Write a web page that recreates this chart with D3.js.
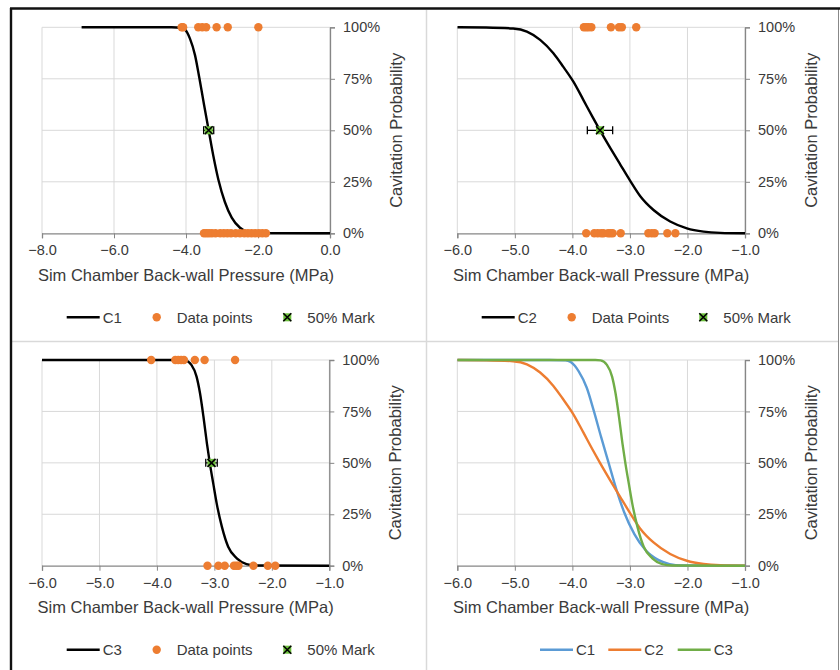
<!DOCTYPE html>
<html>
<head>
<meta charset="utf-8">
<script src="https://cdn.jsdelivr.net/npm/d3@7"></script>
<style>
body{margin:0;background:#fff;}
svg text{font-family:"Liberation Sans",Arial,sans-serif;fill:#3a3a3a;}
</style>
</head>
<body>
<svg id="chart" width="840" height="670"></svg>
<script>
// fitted curves (pressure MPa, probability)
var c1X = [-6.9,-4.4,-4.12,-4.03,-3.89,-3.75,-3.63,-3.50,-3.37,-3.24,-3.10,-2.92,-2.73,-2.50,-2.31,-2.10,0];
var c1Y = [1,1,0.998,0.99,0.945,0.865,0.755,0.625,0.50,0.375,0.26,0.152,0.076,0.027,0.008,0.001,0];
var c2X = [-6.0,-5.5,-5.03,-4.79,-4.56,-4.33,-4.16,-3.98,-3.81,-3.65,-3.52,-3.34,-3.17,-3.0,-2.82,-2.59,-2.30,-2.01,-1.72,-1.43,-1.0];
var c2Y = [1,0.999,0.994,0.979,0.939,0.874,0.809,0.735,0.648,0.565,0.50,0.414,0.335,0.257,0.18,0.113,0.057,0.024,0.008,0.002,0];
var c3X = [-6.0,-3.6,-3.51,-3.40,-3.31,-3.25,-3.19,-3.13,-3.08,-3.02,-2.96,-2.87,-2.76,-2.61,-2.44,-2.26,-1.0];
var c3Y = [1,1,0.998,0.976,0.919,0.838,0.724,0.595,0.50,0.40,0.303,0.19,0.092,0.036,0.008,0.001,0];

// test points: cavitated (100%) and not cavitated (0%)
var p1Cav = [-4.12,-4.08,-3.66,-3.55,-3.44,-3.15,-2.84,-1.99];
var p1No = [-3.50,-3.43,-3.36,-3.28,-3.18,-3.05,-2.95,-2.85,-2.75,-2.62,-2.50,-2.38,-2.28,-2.18,-2.08,-1.98,-1.88,-1.78];
var p2Cav = [-3.80,-3.76,-3.72,-3.67,-3.33,-3.19,-3.14,-2.89];
var p2No = [-3.76,-3.62,-3.56,-3.50,-3.46,-3.38,-3.34,-3.30,-3.16,-2.68,-2.62,-2.57,-2.35,-2.21];
var p3Cav = [-4.10,-3.68,-3.63,-3.58,-3.53,-3.34,-3.17,-2.64];
var p3No = [-3.12,-2.93,-2.82,-2.66,-2.62,-2.58,-2.32,-2.07,-1.94];

// 50% mark: [pressure, probability, +/- error]
var mark1 = [-3.37, 0.5, 0.14];
var mark2 = [-3.52, 0.5, 0.22];
var mark3 = [-3.05, 0.5, 0.10];

var xTicksWide = [-8,-6,-4,-2,0];
var xTicksNarrow = [-6,-5,-4,-3,-2,-1];
var yTicks = [0,0.25,0.5,0.75,1];
var xTitle = "Sim Chamber Back-wall Pressure (MPa)";
var yTitle = "Cavitation Probability";

var orange = "#ED7D31", blue = "#5B9BD5", green = "#70AD47", markGreen = "#6BBF3A";

var CavChart = {
	svg: d3.select("#chart"),
	drawFrame: function(){
		var s = this.svg;
		s.append("line").attr("x1",426.5).attr("y1",10).attr("x2",426.5).attr("y2",670)
			.attr("stroke","#d9d9d9").attr("stroke-width",1.5);
		s.append("line").attr("x1",12).attr("y1",341.5).attr("x2",838).attr("y2",341.5)
			.attr("stroke","#d9d9d9").attr("stroke-width",1.5);
		s.append("line").attr("x1",838.5).attr("y1",9).attr("x2",838.5).attr("y2",670)
			.attr("stroke","#888").attr("stroke-width",1);
		s.append("line").attr("x1",10).attr("y1",8.5).attr("x2",840).attr("y2",8.5)
			.attr("stroke","#111").attr("stroke-width",2.4);
		s.append("line").attr("x1",11).attr("y1",8).attr("x2",11).attr("y2",670)
			.attr("stroke","#111").attr("stroke-width",2.4);
	},
	mark: function(g, cx, cy){
		g.append("rect").attr("x",cx-4).attr("y",cy-4).attr("width",8).attr("height",8).attr("fill",markGreen);
		g.append("path").attr("d","M"+(cx-4)+","+(cy-4)+"L"+(cx+4)+","+(cy+4)+"M"+(cx+4)+","+(cy-4)+"L"+(cx-4)+","+(cy+4))
			.attr("stroke","#000").attr("stroke-width",1.6);
	},
	panel: function(o){
		var s = this.svg, self = this;
		var g = s.append("g");
		var x = d3.scaleLinear().domain(o.xDomain).range([o.left,o.right]);
		var y = d3.scaleLinear().domain([0,1]).range([o.bottom,o.top]);
		var clipId = "clip"+o.id;
		s.append("clipPath").attr("id",clipId).append("rect")
			.attr("x",o.left).attr("y",o.top-6).attr("width",o.right-o.left).attr("height",o.bottom-o.top+12);

		// grid
		g.selectAll(".vgrid").data(o.xTicks).enter().append("line")
			.attr("x1",function(d){return x(d);}).attr("x2",function(d){return x(d);})
			.attr("y1",o.top).attr("y2",o.bottom)
			.attr("stroke","#d9d9d9").attr("stroke-width",1);
		g.selectAll(".hgrid").data(yTicks.slice(1)).enter().append("line")
			.attr("x1",o.left).attr("x2",o.right)
			.attr("y1",function(d){return y(d);}).attr("y2",function(d){return y(d);})
			.attr("stroke","#d9d9d9").attr("stroke-width",1);

		// bottom axis
		var xAxis = d3.axisBottom(x).tickValues(o.xTicks).tickSize(5).tickFormat(d3.format(".1f"));
		var ga = g.append("g").attr("transform","translate(0,"+o.bottom+")").call(xAxis);
		ga.select(".domain").attr("stroke","#868686").attr("stroke-width",1.3);
		ga.selectAll(".tick line").attr("stroke","#868686");
		ga.selectAll(".tick text").attr("y",17).attr("dy","0.35em").style("font-size","14.5px");
		ga.attr("font-family",null).attr("font-size",null);

		// right axis
		var yAxis = d3.axisRight(y).tickValues(yTicks).tickSize(5).tickFormat(d3.format(".0%"));
		var gy = g.append("g").attr("transform","translate("+o.right+",0)").call(yAxis);
		gy.select(".domain").attr("stroke","#868686").attr("stroke-width",1.3);
		gy.selectAll(".tick line").attr("stroke","#868686");
		gy.selectAll(".tick text").attr("x",13).style("font-size","14.5px");
		gy.attr("font-family",null).attr("font-size",null);

		// titles
		g.append("text").attr("x",(o.left+o.right)/2).attr("y",o.bottom+42).attr("dy","0.35em")
			.attr("text-anchor","middle").style("font-size","16.5px").text(xTitle);
		g.append("text").attr("transform","translate("+(o.right+66)+","+((o.top+o.bottom)/2)+") rotate(-90)")
			.attr("dy","0.35em").attr("text-anchor","middle").style("font-size","16.5px").text(yTitle);

		// curves
		var line = d3.line().x(function(d){return x(d[0]);}).y(function(d){return y(d[1]);})
			.curve(d3.curveMonotoneX);
		var cg = g.append("g").attr("clip-path","url(#"+clipId+")");
		o.curves.forEach(function(c){
			cg.append("path").datum(d3.zip(c.xs,c.ys)).attr("d",line)
				.attr("fill","none").attr("stroke",c.color).attr("stroke-width",2.4);
		});

		// points
		if(o.cav){
			var pts = o.cav.map(function(v){return [v,1];}).concat(o.none.map(function(v){return [v,0];}));
			g.selectAll(".pt").data(pts).enter().append("circle")
				.attr("cx",function(d){return x(d[0]);}).attr("cy",function(d){return y(d[1]);})
				.attr("r",4.2).attr("fill",orange);
		}

		// 50% mark with error bar
		if(o.mark){
			var m = o.mark, my = y(m[1]);
			var x0 = x(m[0]-m[2]), x1 = x(m[0]+m[2]);
			g.append("path").attr("d","M"+x0+","+my+"H"+x1+"M"+x0+","+(my-4)+"V"+(my+4)+"M"+x1+","+(my-4)+"V"+(my+4))
				.attr("stroke","#000").attr("stroke-width",1.3).attr("fill","none");
			self.mark(g, x(m[0]), my);
		}

		// legend
		var ly = o.bottom+84;
		o.legend.forEach(function(it){
			if(it.type=="line"){
				g.append("line").attr("x1",it.x).attr("x2",it.x+33).attr("y1",ly).attr("y2",ly)
					.attr("stroke",it.color).attr("stroke-width",2.4);
				g.append("text").attr("x",it.x+36).attr("y",ly).attr("dy","0.35em").style("font-size","15px").text(it.label);
			} else if(it.type=="dot"){
				g.append("circle").attr("cx",it.x).attr("cy",ly).attr("r",4.2).attr("fill",orange);
				g.append("text").attr("x",it.x+20).attr("y",ly).attr("dy","0.35em").style("font-size","15px").text(it.label);
			} else {
				self.mark(g, it.x, ly);
				g.append("text").attr("x",it.x+20).attr("y",ly).attr("dy","0.35em").style("font-size","15px").text(it.label);
			}
		});
	}
};

CavChart.drawFrame();
CavChart.panel({id:1, xDomain:[-8,0], xTicks:xTicksWide, left:42, right:330, top:27.3, bottom:233.3,
	curves:[{xs:c1X, ys:c1Y, color:"#000"}], cav:p1Cav, none:p1No, mark:mark1,
	legend:[{type:"line",x:66.7,label:"C1",color:"#000"},{type:"dot",x:156.7,label:"Data points"},{type:"mark",x:287.3,label:"50% Mark"}]});
CavChart.panel({id:2, xDomain:[-6,-1], xTicks:xTicksNarrow, left:457.3, right:745, top:27.3, bottom:233.3,
	curves:[{xs:c2X, ys:c2Y, color:"#000"}], cav:p2Cav, none:p2No, mark:mark2,
	legend:[{type:"line",x:481.7,label:"C2",color:"#000"},{type:"dot",x:571.7,label:"Data Points"},{type:"mark",x:703.3,label:"50% Mark"}]});
CavChart.panel({id:3, xDomain:[-6,-1], xTicks:xTicksNarrow, left:42, right:329.3, top:360, bottom:565.7,
	curves:[{xs:c3X, ys:c3Y, color:"#000"}], cav:p3Cav, none:p3No, mark:mark3,
	legend:[{type:"line",x:66.7,label:"C3",color:"#000"},{type:"dot",x:156.7,label:"Data points"},{type:"mark",x:287.3,label:"50% Mark"}]});
CavChart.panel({id:4, xDomain:[-6,-1], xTicks:xTicksNarrow, left:457.3, right:745, top:360, bottom:565.7,
	curves:[{xs:c1X, ys:c1Y, color:blue},{xs:c2X, ys:c2Y, color:orange},{xs:c3X, ys:c3Y, color:green}],
	legend:[{type:"line",x:540,label:"C1",color:blue},{type:"line",x:608.3,label:"C2",color:orange},{type:"line",x:677.7,label:"C3",color:green}]});
</script>
</body>
</html>
